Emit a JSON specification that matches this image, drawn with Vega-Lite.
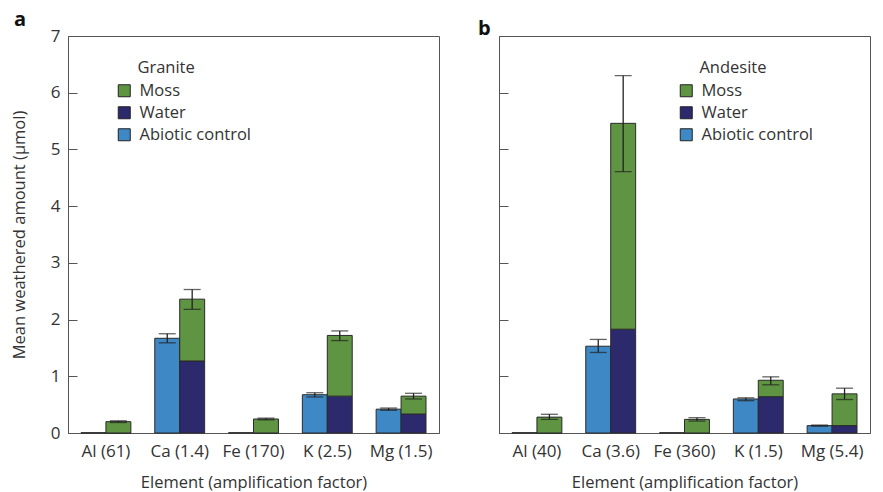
{
  "$schema": "https://vega.github.io/schema/vega-lite/v6.json",
  "padding": {"left": 10, "top": 9, "right": 5, "bottom": 0},
  "config": {
    "font": "Open Sans",
    "view": {"stroke": "#555", "strokeWidth": 1},
    "concat": {"spacing": 37},
    "axis": {"labelFont": "Open Sans", "titleFont": "Open Sans", "labelFontSize": 17, "titleFontSize": 16.5, "titleFontWeight": "normal", "labelColor": "#333", "titleColor": "#333", "domainColor": "#555", "tickColor": "#555", "grid": false},
    "legend": {"labelFontSize": 16.5, "titleFontSize": 16.5, "titleFontWeight": "normal", "labelColor": "#333", "titleColor": "#333", "symbolType": "square", "symbolSize": 144, "symbolStrokeColor": "#222", "symbolStrokeWidth": 1, "rowPadding": 5, "labelOffset": 7, "titlePadding": 6}
  },
  "datasets": {
    "granite": [
      {"label": "Al (61)", "series": "abiotic", "component": "Abiotic control", "value": 0.005, "order": 0},
      {"label": "Al (61)", "series": "treated", "component": "Water", "value": 0, "order": 1},
      {"label": "Al (61)", "series": "treated", "component": "Moss", "value": 0.2, "order": 2},
      {"label": "Ca (1.4)", "series": "abiotic", "component": "Abiotic control", "value": 1.67, "order": 0},
      {"label": "Ca (1.4)", "series": "treated", "component": "Water", "value": 1.27, "order": 1},
      {"label": "Ca (1.4)", "series": "treated", "component": "Moss", "value": 1.09, "order": 2},
      {"label": "Fe (170)", "series": "abiotic", "component": "Abiotic control", "value": 0.005, "order": 0},
      {"label": "Fe (170)", "series": "treated", "component": "Water", "value": 0, "order": 1},
      {"label": "Fe (170)", "series": "treated", "component": "Moss", "value": 0.247, "order": 2},
      {"label": "K (2.5)", "series": "abiotic", "component": "Abiotic control", "value": 0.675, "order": 0},
      {"label": "K (2.5)", "series": "treated", "component": "Water", "value": 0.65, "order": 1},
      {"label": "K (2.5)", "series": "treated", "component": "Moss", "value": 1.07, "order": 2},
      {"label": "Mg (1.5)", "series": "abiotic", "component": "Abiotic control", "value": 0.42, "order": 0},
      {"label": "Mg (1.5)", "series": "treated", "component": "Water", "value": 0.335, "order": 1},
      {"label": "Mg (1.5)", "series": "treated", "component": "Moss", "value": 0.315, "order": 2}
    ],
    "granite_err": [
      {"label": "Al (61)", "series": "treated", "lo": 0.185, "hi": 0.215},
      {"label": "Ca (1.4)", "series": "abiotic", "lo": 1.59, "hi": 1.75},
      {"label": "Ca (1.4)", "series": "treated", "lo": 2.18, "hi": 2.53},
      {"label": "Fe (170)", "series": "treated", "lo": 0.232, "hi": 0.262},
      {"label": "K (2.5)", "series": "abiotic", "lo": 0.635, "hi": 0.71},
      {"label": "K (2.5)", "series": "treated", "lo": 1.63, "hi": 1.8},
      {"label": "Mg (1.5)", "series": "abiotic", "lo": 0.4, "hi": 0.44},
      {"label": "Mg (1.5)", "series": "treated", "lo": 0.6, "hi": 0.7}
    ],
    "andesite": [
      {"label": "Al (40)", "series": "abiotic", "component": "Abiotic control", "value": 0.005, "order": 0},
      {"label": "Al (40)", "series": "treated", "component": "Water", "value": 0, "order": 1},
      {"label": "Al (40)", "series": "treated", "component": "Moss", "value": 0.28, "order": 2},
      {"label": "Ca (3.6)", "series": "abiotic", "component": "Abiotic control", "value": 1.53, "order": 0},
      {"label": "Ca (3.6)", "series": "treated", "component": "Water", "value": 1.83, "order": 1},
      {"label": "Ca (3.6)", "series": "treated", "component": "Moss", "value": 3.63, "order": 2},
      {"label": "Fe (360)", "series": "abiotic", "component": "Abiotic control", "value": 0.005, "order": 0},
      {"label": "Fe (360)", "series": "treated", "component": "Water", "value": 0, "order": 1},
      {"label": "Fe (360)", "series": "treated", "component": "Moss", "value": 0.24, "order": 2},
      {"label": "K (1.5)", "series": "abiotic", "component": "Abiotic control", "value": 0.6, "order": 0},
      {"label": "K (1.5)", "series": "treated", "component": "Water", "value": 0.64, "order": 1},
      {"label": "K (1.5)", "series": "treated", "component": "Moss", "value": 0.29, "order": 2},
      {"label": "Mg (5.4)", "series": "abiotic", "component": "Abiotic control", "value": 0.13, "order": 0},
      {"label": "Mg (5.4)", "series": "treated", "component": "Water", "value": 0.13, "order": 1},
      {"label": "Mg (5.4)", "series": "treated", "component": "Moss", "value": 0.56, "order": 2}
    ],
    "andesite_err": [
      {"label": "Al (40)", "series": "treated", "lo": 0.24, "hi": 0.33},
      {"label": "Ca (3.6)", "series": "abiotic", "lo": 1.42, "hi": 1.65},
      {"label": "Ca (3.6)", "series": "treated", "lo": 4.61, "hi": 6.3},
      {"label": "Fe (360)", "series": "treated", "lo": 0.21, "hi": 0.27},
      {"label": "K (1.5)", "series": "abiotic", "lo": 0.57, "hi": 0.62},
      {"label": "K (1.5)", "series": "treated", "lo": 0.85, "hi": 0.99},
      {"label": "Mg (5.4)", "series": "abiotic", "lo": 0.12, "hi": 0.14},
      {"label": "Mg (5.4)", "series": "treated", "lo": 0.59, "hi": 0.79}
    ]
  },
  "hconcat": [
    {
      "width": 371, "height": 397,
      "title": {"text": "a", "anchor": "start", "frame": "group", "dx": -54, "fontSize": 20, "fontWeight": "bold", "color": "#111", "offset": -3},
      "encoding": {
        "x": {"field": "label", "type": "nominal", "sort": null, "scale": {"paddingInner": 0.324, "paddingOuter": 0.176}, "axis": {"title": "Element (amplification factor)", "ticks": false, "labelAngle": 0, "labelPadding": 10, "titlePadding": 15}},
        "xOffset": {"field": "series", "type": "nominal", "scale": {"domain": ["abiotic", "treated"], "paddingInner": 0, "paddingOuter": 0}}
      },
      "layer": [
        {
          "data": {"name": "granite"},
          "mark": {"type": "bar", "stroke": "#2a2a2a", "strokeWidth": 1},
          "encoding": {
            "y": {"field": "value", "type": "quantitative", "stack": "zero", "scale": {"domain": [0, 7], "nice": false}, "axis": {"title": "Mean weathered amount (μmol)", "values": [0, 1, 2, 3, 4, 5, 6, 7], "format": "d", "tickSize": -9, "labelPadding": 17, "titlePadding": 23}},
            "color": {"field": "component", "type": "nominal", "scale": {"domain": ["Moss", "Water", "Abiotic control"], "range": ["#5e9442", "#2c2a6c", "#3d88c5"]}, "legend": {"title": "\u200b\u00a0\u00a0\u00a0\u00a0\u00a0Granite", "orient": "none", "legendX": 48, "legendY": 24}},
            "order": {"field": "order", "type": "quantitative"}
          }
        },
        {
          "data": {"name": "granite_err"},
          "mark": {"type": "rule", "color": "#222", "strokeWidth": 1.3},
          "encoding": {"y": {"field": "lo", "type": "quantitative"}, "y2": {"field": "hi"}}
        },
        {
          "data": {"name": "granite_err"},
          "mark": {"type": "tick", "color": "#222", "thickness": 1.3, "size": 17},
          "encoding": {"y": {"field": "lo", "type": "quantitative"}}
        },
        {
          "data": {"name": "granite_err"},
          "mark": {"type": "tick", "color": "#222", "thickness": 1.3, "size": 17},
          "encoding": {"y": {"field": "hi", "type": "quantitative"}}
        }
      ]
    },
    {
      "width": 371, "height": 397,
      "title": {"text": "b", "anchor": "start", "frame": "group", "dx": -21, "fontSize": 20, "fontWeight": "bold", "color": "#111", "offset": -3},
      "encoding": {
        "x": {"field": "label", "type": "nominal", "sort": null, "scale": {"paddingInner": 0.324, "paddingOuter": 0.176}, "axis": {"title": "Element (amplification factor)", "ticks": false, "labelAngle": 0, "labelPadding": 10, "titlePadding": 15}},
        "xOffset": {"field": "series", "type": "nominal", "scale": {"domain": ["abiotic", "treated"], "paddingInner": 0, "paddingOuter": 0}}
      },
      "layer": [
        {
          "data": {"name": "andesite"},
          "mark": {"type": "bar", "stroke": "#2a2a2a", "strokeWidth": 1},
          "encoding": {
            "y": {"field": "value", "type": "quantitative", "stack": "zero", "scale": {"domain": [0, 7], "nice": false}, "axis": {"title": null, "labels": false, "values": [0, 1, 2, 3, 4, 5, 6, 7], "tickSize": -9}},
            "color": {"field": "component", "type": "nominal", "scale": {"domain": ["Moss", "Water", "Abiotic control"], "range": ["#5e9442", "#2c2a6c", "#3d88c5"]}, "legend": {"title": "\u200b\u00a0\u00a0\u00a0\u00a0\u00a0Andesite", "orient": "none", "legendX": 179, "legendY": 24}},
            "order": {"field": "order", "type": "quantitative"}
          }
        },
        {
          "data": {"name": "andesite_err"},
          "mark": {"type": "rule", "color": "#222", "strokeWidth": 1.3},
          "encoding": {"y": {"field": "lo", "type": "quantitative"}, "y2": {"field": "hi"}}
        },
        {
          "data": {"name": "andesite_err"},
          "mark": {"type": "tick", "color": "#222", "thickness": 1.3, "size": 17},
          "encoding": {"y": {"field": "lo", "type": "quantitative"}}
        },
        {
          "data": {"name": "andesite_err"},
          "mark": {"type": "tick", "color": "#222", "thickness": 1.3, "size": 17},
          "encoding": {"y": {"field": "hi", "type": "quantitative"}}
        }
      ]
    }
  ],
  "resolve": {"scale": {"color": "independent"}, "legend": {"color": "independent"}}
}
